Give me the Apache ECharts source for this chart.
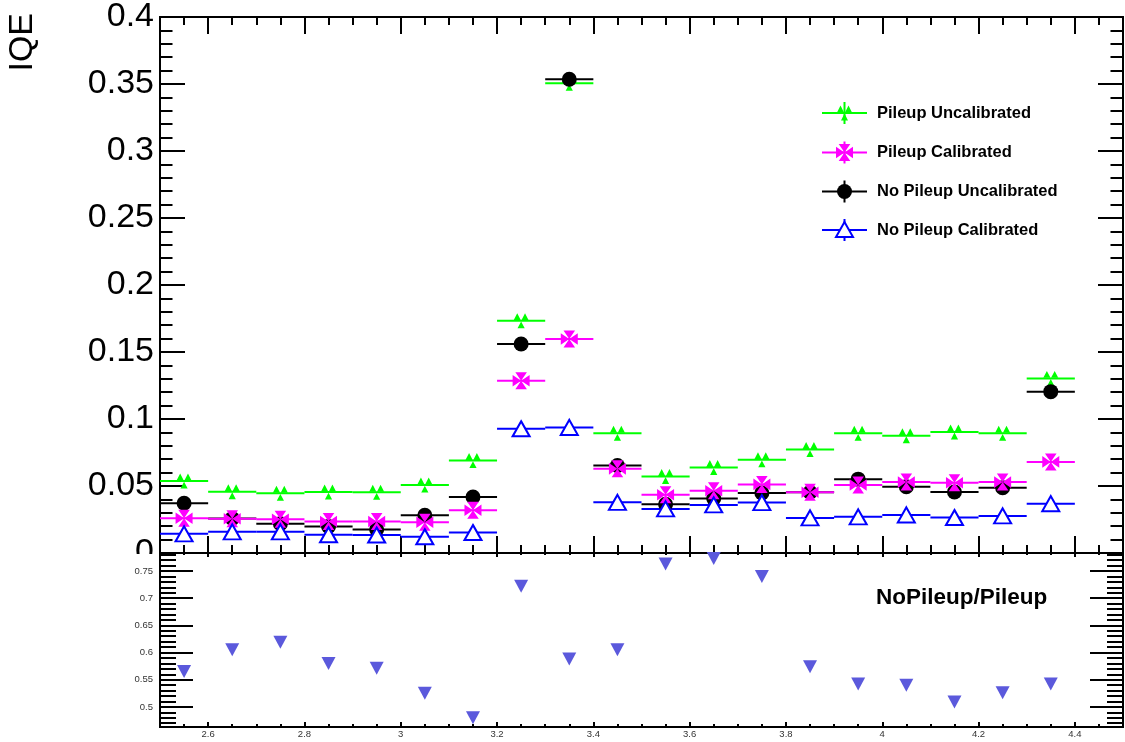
<!DOCTYPE html>
<html>
<head>
<meta charset="utf-8">
<script src="https://cdn.jsdelivr.net/npm/echarts@6/dist/echarts.min.js"></script>
<style>
html,body{margin:0;padding:0;background:#fff;}
#chart{width:1125px;height:742px;}
</style>
</head>
<body>
<div id="chart"></div>
<script>
// ---------- data ----------
var binCenters = [2.55, 2.65, 2.75, 2.85, 2.95, 3.05, 3.15, 3.25, 3.35, 3.45, 3.55, 3.65, 3.75, 3.85, 3.95, 4.05, 4.15, 4.25, 4.35];
var binHalfWidth = 0.05;
var pileupUncalibrated   = [0.0537, 0.0457, 0.0445, 0.0455, 0.0453, 0.0507, 0.0690, 0.1733, 0.3505, 0.0893, 0.0571, 0.0638, 0.0695, 0.0772, 0.0893, 0.0875, 0.0903, 0.0893, 0.1303];
var pileupCalibrated     = [0.0260, 0.0255, 0.0252, 0.0235, 0.0235, 0.0230, 0.0319, 0.1286, 0.1597, 0.0628, 0.0435, 0.0465, 0.0512, 0.0453, 0.0507, 0.0529, 0.0524, 0.0529, 0.0680];
var noPileupUncalibrated = [0.0371, 0.0257, 0.0218, 0.0198, 0.0176, 0.0282, 0.0418, 0.1560, 0.3535, 0.0653, 0.0364, 0.0406, 0.0448, 0.0453, 0.0551, 0.0495, 0.0455, 0.0487, 0.1204];
var noPileupCalibrated   = [0.0143, 0.0158, 0.0158, 0.0136, 0.0134, 0.0121, 0.0153, 0.0927, 0.0937, 0.0378, 0.0329, 0.0359, 0.0376, 0.0262, 0.0270, 0.0284, 0.0265, 0.0277, 0.0368];
var ratioNoPileupPileup  = [0.565, 0.605, 0.619, 0.580, 0.571, 0.525, 0.480, 0.722, 0.588, 0.605, 0.763, 0.773, 0.740, 0.574, 0.542, 0.540, 0.509, 0.526, 0.542];

var xMajorTicks = [2.6, 2.8, 3.0, 3.2, 3.4, 3.6, 3.8, 4.0, 4.2, 4.4];
var xMinorTicks = [2.55, 2.65, 2.7, 2.75, 2.85, 2.9, 2.95, 3.05, 3.1, 3.15, 3.25, 3.3, 3.35, 3.45, 3.5, 3.55, 3.65, 3.7, 3.75, 3.85, 3.9, 3.95, 4.05, 4.1, 4.15, 4.25, 4.3, 4.35, 4.45];
var ratioMajorTicks = [0.5, 0.55, 0.6, 0.65, 0.7, 0.75];
var ratioMinorTicks = [0.47, 0.48, 0.49, 0.51, 0.52, 0.53, 0.54, 0.56, 0.57, 0.58, 0.59, 0.61, 0.62, 0.63, 0.64, 0.66, 0.67, 0.68, 0.69, 0.71, 0.72, 0.73, 0.74, 0.76, 0.77, 0.78];

var legendNames = ['Pileup Uncalibrated', 'Pileup Calibrated', 'No Pileup Uncalibrated', 'No Pileup Calibrated'];
var ratioLabel = 'NoPileup/Pileup';
var yTitle = 'IQE';

// ---------- styling ----------
var FONT = "'Liberation Sans', Arial, Helvetica, sans-serif";
var GREEN = '#00ff00', MAGENTA = '#ff00ff', BLACK = '#000000', BLUE = '#0000ff', RATIO = '#5b59dc';
var greenPath = 'path://M0 46 L24 0 L48 46 Z M52 46 L76 0 L100 46 Z M26 100 L50 54 L74 100 Z';
var magentaPath = 'path://M16 0 L84 0 L50 50 Z M16 100 L84 100 L50 50 Z M0 16 L0 84 L50 50 Z M100 16 L100 84 L50 50 Z';

var X0 = 2.5, X1 = 4.5;
var R0 = 0.463, R1 = 0.783;

function pairs(arr) { return binCenters.map(function (x, i) { return [x, arr[i]]; }); }

function xAxisDef(grid, pos, ticks, len, label) {
  return {
    type: 'value', gridIndex: grid, position: pos, min: X0, max: X1,
    axisLine: { show: true, onZero: false, lineStyle: { color: '#000', width: 2 } },
    axisTick: { show: true, inside: true, length: len, customValues: ticks, lineStyle: { color: '#000', width: 2 } },
    axisLabel: label ? { show: true, customValues: ticks, fontSize: 9.5, color: '#333', margin: 2, fontFamily: FONT } : { show: false },
    splitLine: { show: false }
  };
}
function ratioYAxis(pos, ticks, len, label) {
  return {
    type: 'value', gridIndex: 1, position: pos, min: R0, max: R1,
    axisLine: { show: true, onZero: false, lineStyle: { color: '#000', width: 2 } },
    axisTick: { show: true, inside: true, length: len, customValues: ticks, lineStyle: { color: '#000', width: 2 } },
    axisLabel: label ? { show: true, customValues: ticks, fontSize: 9.5, color: '#333', margin: 7, fontFamily: FONT } : { show: false },
    splitLine: { show: false }
  };
}
function mainYAxis(pos, label) {
  return {
    type: 'value', gridIndex: 0, position: pos, min: 0, max: 0.4, interval: 0.05,
    axisLine: { show: true, onZero: false, lineStyle: { color: '#000', width: 2 } },
    axisTick: { show: true, inside: true, length: 25, lineStyle: { color: '#000', width: 2 } },
    minorTick: { show: true, splitNumber: 5, length: 12.5, lineStyle: { color: '#000', width: 2 } },
    axisLabel: label ? { show: true, fontSize: 34, color: '#000', margin: 6, fontFamily: FONT } : { show: false },
    splitLine: { show: false }, minorSplitLine: { show: false }
  };
}

function barSeries(arr, color, xi, yi) {
  return {
    type: 'custom', xAxisIndex: xi, yAxisIndex: yi, data: pairs(arr), silent: true,
    renderItem: function (params, api) {
      var x = api.value(0), y = api.value(1);
      var a = api.coord([x - binHalfWidth, y]);
      var b = api.coord([x + binHalfWidth, y]);
      return { type: 'line', shape: { x1: a[0], y1: a[1], x2: b[0], y2: b[1] }, style: { stroke: color, lineWidth: 2 } };
    }
  };
}
function markerSeries(arr, symbol, size, style, xi, yi, rot) {
  return {
    type: 'scatter', xAxisIndex: xi, yAxisIndex: yi, data: pairs(arr), symbol: symbol, symbolSize: size,
    symbolRotate: rot || 0, itemStyle: style, silent: true
  };
}

var series = [
  barSeries(pileupUncalibrated, GREEN, 0, 0),
  markerSeries(pileupUncalibrated, greenPath, [15, 15], { color: GREEN, opacity: 1 }, 0, 0),
  barSeries(noPileupUncalibrated, BLACK, 0, 0),
  markerSeries(noPileupUncalibrated, 'circle', 15, { color: BLACK, opacity: 1 }, 0, 0),
  barSeries(pileupCalibrated, MAGENTA, 0, 0),
  markerSeries(pileupCalibrated, magentaPath, [17, 17], { color: MAGENTA, opacity: 1 }, 0, 0),
  barSeries(noPileupCalibrated, BLUE, 0, 0),
  markerSeries(noPileupCalibrated, 'triangle', [17, 15], { color: '#fff', borderColor: BLUE, borderWidth: 2, opacity: 1 }, 0, 0),
  markerSeries(ratioNoPileupPileup, 'triangle', [14, 13], { color: RATIO, opacity: 1 }, 4, 2, 180)
];

// ---------- legend (drawn as graphic) ----------
var legendYs = [113, 152.5, 191.5, 230];
var legendColors = [GREEN, MAGENTA, BLACK, BLUE];
var LX0 = 822, LX1 = 867, LXC = 844.5, LTX = 877;
var graphics = [];
legendNames.forEach(function (name, i) {
  var yc = legendYs[i], c = legendColors[i];
  graphics.push({ type: 'line', shape: { x1: LX0, y1: yc, x2: LX1, y2: yc }, style: { stroke: c, lineWidth: 2 }, z: 50 });
  graphics.push({ type: 'line', shape: { x1: LXC, y1: yc - 11, x2: LXC, y2: yc + 11 }, style: { stroke: c, lineWidth: 2 }, z: 50 });
  if (i === 0) {
    graphics.push({ type: 'polygon', shape: { points: [[LXC - 7.5, yc - 0.5], [LXC - 4, yc - 7.5], [LXC - 0.5, yc - 0.5]] }, style: { fill: c }, z: 51 });
    graphics.push({ type: 'polygon', shape: { points: [[LXC + 0.5, yc - 0.5], [LXC + 4, yc - 7.5], [LXC + 7.5, yc - 0.5]] }, style: { fill: c }, z: 51 });
    graphics.push({ type: 'polygon', shape: { points: [[LXC - 3.5, yc + 7.5], [LXC, yc + 0.5], [LXC + 3.5, yc + 7.5]] }, style: { fill: c }, z: 51 });
  } else if (i === 1) {
    var s = 8.5, w = 5.8;
    graphics.push({ type: 'polygon', shape: { points: [[LXC - w, yc - s], [LXC + w, yc - s], [LXC, yc]] }, style: { fill: c }, z: 51 });
    graphics.push({ type: 'polygon', shape: { points: [[LXC - w, yc + s], [LXC + w, yc + s], [LXC, yc]] }, style: { fill: c }, z: 51 });
    graphics.push({ type: 'polygon', shape: { points: [[LXC - s, yc - w], [LXC - s, yc + w], [LXC, yc]] }, style: { fill: c }, z: 51 });
    graphics.push({ type: 'polygon', shape: { points: [[LXC + s, yc - w], [LXC + s, yc + w], [LXC, yc]] }, style: { fill: c }, z: 51 });
  } else if (i === 2) {
    graphics.push({ type: 'circle', shape: { cx: LXC, cy: yc, r: 7.5 }, style: { fill: c }, z: 51 });
  } else {
    graphics.push({ type: 'polygon', shape: { points: [[LXC - 8.5, yc + 7], [LXC, yc - 8], [LXC + 8.5, yc + 7]] }, style: { fill: '#fff', stroke: c, lineWidth: 2 }, z: 51 });
  }
  graphics.push({ type: 'text', x: LTX, y: yc, style: { text: name, fill: '#000', font: 'bold 16.5px ' + FONT, textVerticalAlign: 'middle', verticalAlign: 'middle' }, z: 51 });
});
// ratio label
graphics.push({ type: 'text', x: 876, y: 598, style: { text: ratioLabel, fill: '#000', font: 'bold 22.5px ' + FONT, verticalAlign: 'middle', textVerticalAlign: 'middle' }, z: 51 });
// y title
graphics.push({ type: 'text', x: 23, y: 13, rotation: Math.PI / 2, style: { text: yTitle, fill: '#000', font: '34px ' + FONT, align: 'right', textAlign: 'right', verticalAlign: 'middle', textVerticalAlign: 'middle' }, z: 51 });
// mask lower half of the "0" label (clipped by the pad edge in the original)
graphics.push({ type: 'rect', shape: { x: 90, y: 554, width: 66, height: 13 }, style: { fill: '#fff' }, z: 100 });

var option = {
  animation: false,
  backgroundColor: '#fff',
  grid: [
    { left: 160, top: 13, width: 963, height: 540, containLabel: false },
    { left: 160, top: 553, width: 963, height: 174, containLabel: false }
  ],
  xAxis: [
    xAxisDef(0, 'bottom', xMajorTicks, 17, false),
    xAxisDef(0, 'bottom', xMinorTicks, 8, false),
    xAxisDef(0, 'top', xMajorTicks, 17, false),
    xAxisDef(0, 'top', xMinorTicks, 8, false),
    xAxisDef(1, 'bottom', xMajorTicks, 5, true),
    xAxisDef(1, 'bottom', xMinorTicks, 3, false),
    xAxisDef(1, 'top', xMajorTicks, 4, false),
    xAxisDef(1, 'top', xMinorTicks, 2, false)
  ],
  yAxis: [
    mainYAxis('left', true),
    mainYAxis('right', false),
    ratioYAxis('left', ratioMajorTicks, 33, true),
    ratioYAxis('left', ratioMinorTicks, 16, false),
    ratioYAxis('right', ratioMajorTicks, 33, false),
    ratioYAxis('right', ratioMinorTicks, 16, false)
  ],
  graphic: graphics,
  series: series
};
var chart = echarts.init(document.getElementById('chart'), null, { renderer: 'canvas' });
chart.setOption(option);
</script>
</body>
</html>
